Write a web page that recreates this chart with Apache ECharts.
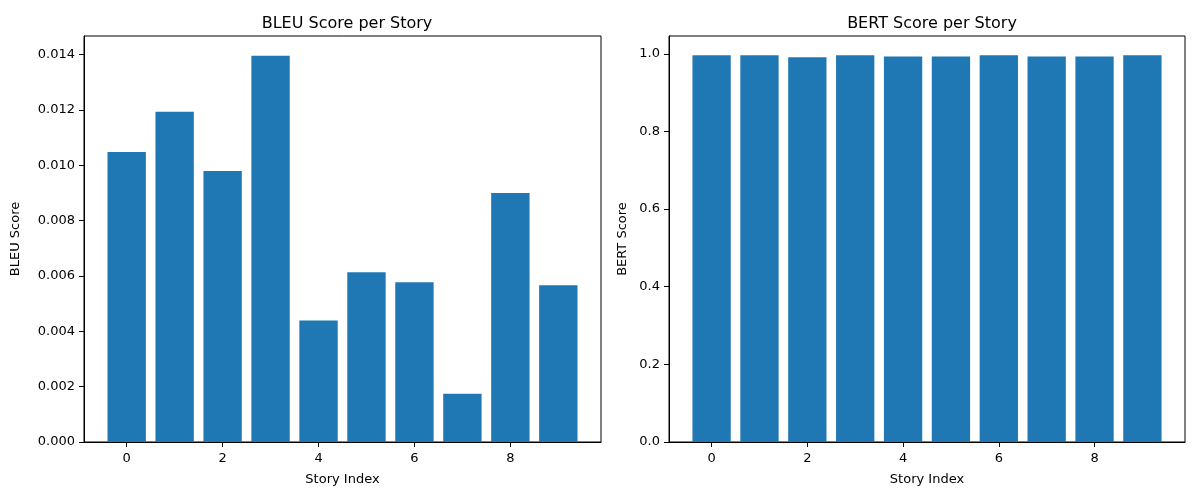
<!DOCTYPE html>
<html>
<head>
<meta charset="utf-8">
<script src="https://cdn.jsdelivr.net/npm/echarts@6/dist/echarts.min.js"></script>
<style>html,body{margin:0;padding:0;background:#fff}#c{width:1200px;height:500px}</style>
</head>
<body>
<div id="c"></div>
<script>
const storyIndex = [0, 1, 2, 3, 4, 5, 6, 7, 8, 9];
const bleuScores = [0.01048, 0.01193, 0.00979, 0.01396, 0.00439, 0.00613, 0.00577, 0.00174, 0.00900, 0.00566];
const bertScores = [0.996, 0.996, 0.991, 0.996, 0.993, 0.993, 0.996, 0.993, 0.993, 0.996];
const xTicks = [0, 2, 4, 6, 8];
const bleuTicks = [0, 0.002, 0.004, 0.006, 0.008, 0.010, 0.012, 0.014];
const bertTicks = [0, 0.2, 0.4, 0.6, 0.8, 1.0];

const FONT = 'DejaVu Sans';
const BAR = '#1f77b4';

function renderBar(params, api) {
  const x = api.value(0), y = api.value(1);
  const p0 = api.coord([x - 0.4, y]);
  const p1 = api.coord([x + 0.4, 0]);
  return {
    type: 'rect',
    shape: { x: p0[0], y: p0[1], width: p1[0] - p0[0], height: p1[1] - p0[1] },
    style: { fill: BAR, stroke: null, lineWidth: 0 }
  };
}

function xAxis(idx) {
  return {
    type: 'value', gridIndex: idx, min: -0.89, max: 9.89,
    name: 'Story Index', nameLocation: 'middle', nameGap: 31,
    nameTextStyle: { fontFamily: FONT, fontSize: 13, color: '#000' },
    axisLine: { show: true, onZero: false, lineStyle: { color: '#000', width: 1 } },
    axisTick: { show: true, inside: false, length: 5, lineStyle: { color: '#000' }, customValues: xTicks },
    axisLabel: { margin: 10, fontFamily: FONT, fontSize: 13, color: '#000', customValues: xTicks, formatter: v => String(v) },
    splitLine: { show: false }
  };
}

function yAxis(idx, name, ticks, max, dec, gap) {
  return {
    type: 'value', gridIndex: idx, min: 0, max: max,
    name: name, nameLocation: 'middle', nameGap: gap,
    nameTextStyle: { fontFamily: FONT, fontSize: 13, color: '#000' },
    axisLine: { show: true, onZero: false, lineStyle: { color: '#000', width: 1 } },
    axisTick: { show: true, inside: false, length: 5, lineStyle: { color: '#000' }, customValues: ticks },
    axisLabel: { margin: 9, fontFamily: FONT, fontSize: 13, color: '#000', customValues: ticks, formatter: v => v.toFixed(dec) },
    splitLine: { show: false }
  };
}

const chart = echarts.init(document.getElementById('c'), null, { renderer: 'canvas' });
chart.setOption({
  animation: false,
  backgroundColor: '#fff',
  title: [
    { text: 'BLEU Score per Story', left: 342, top: 11, textAlign: 'center',
      textStyle: { fontFamily: FONT, fontSize: 16, fontWeight: 'normal', color: '#000' } },
    { text: 'BERT Score per Story', left: 927, top: 11, textAlign: 'center',
      textStyle: { fontFamily: FONT, fontSize: 16, fontWeight: 'normal', color: '#000' } }
  ],
  grid: [
    { left: 84, right: 599, top: 36, bottom: 58, show: true, borderColor: '#000', borderWidth: 1, backgroundColor: 'transparent' },
    { left: 669, right: 15, top: 36, bottom: 58, show: true, borderColor: '#000', borderWidth: 1, backgroundColor: 'transparent' }
  ],
  xAxis: [xAxis(0), xAxis(1)],
  yAxis: [
    yAxis(0, 'BLEU Score', bleuTicks, 0.01467, 3, 62),
    yAxis(1, 'BERT Score', bertTicks, 1.0458, 1, 40)
  ],
  series: [
    { type: 'custom', xAxisIndex: 0, yAxisIndex: 0, renderItem: renderBar, clip: true,
      data: storyIndex.map((s, i) => [s, bleuScores[i]]) },
    { type: 'custom', xAxisIndex: 1, yAxisIndex: 1, renderItem: renderBar, clip: true,
      data: storyIndex.map((s, i) => [s, bertScores[i]]) }
  ]
});
</script>
</body>
</html>
